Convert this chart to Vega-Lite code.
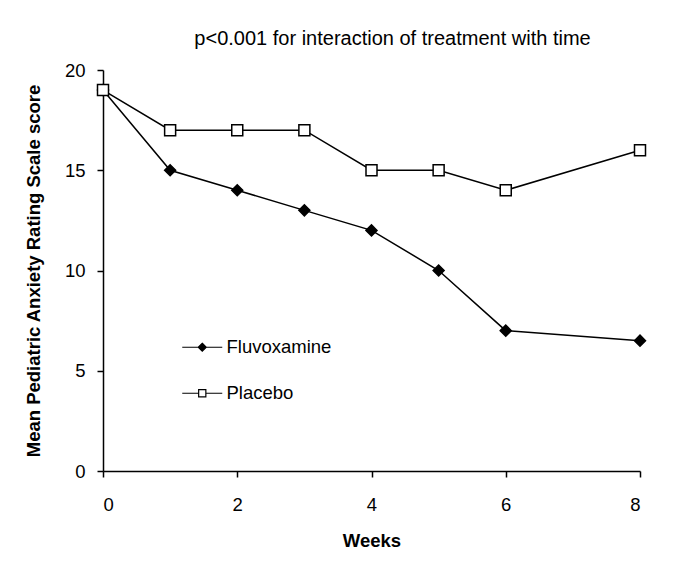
{
  "$schema": "https://vega.github.io/schema/vega-lite/v6.json",
  "autosize": {"type": "none"},
  "width": 537,
  "height": 401,
  "padding": {"left": 103, "top": 70, "right": 38, "bottom": 92},
  "background": "white",
  "config": {
    "view": {"stroke": null},
    "font": "Liberation Sans",
    "axis": {"grid": false, "domainColor": "black", "tickColor": "black", "labelColor": "black", "titleColor": "black", "domainWidth": 1.5, "tickWidth": 1.5, "labelFont": "Liberation Sans", "titleFont": "Liberation Sans", "labelFontSize": 18.5, "titleFontSize": 18.5, "titleFontWeight": "bold"}
  },
  "title": {"text": "p<0.001 for interaction of treatment with time", "fontSize": 20, "fontWeight": "normal", "font": "Liberation Sans", "color": "black", "dx": 21, "offset": 12, "anchor": "middle"},
  "data": {"values": [
    {"week": 0, "score": 19, "series": "Fluvoxamine"},
    {"week": 1, "score": 15, "series": "Fluvoxamine"},
    {"week": 2, "score": 14, "series": "Fluvoxamine"},
    {"week": 3, "score": 13, "series": "Fluvoxamine"},
    {"week": 4, "score": 12, "series": "Fluvoxamine"},
    {"week": 5, "score": 10, "series": "Fluvoxamine"},
    {"week": 6, "score": 7, "series": "Fluvoxamine"},
    {"week": 8, "score": 6.5, "series": "Fluvoxamine"},
    {"week": 0, "score": 19, "series": "Placebo"},
    {"week": 1, "score": 17, "series": "Placebo"},
    {"week": 2, "score": 17, "series": "Placebo"},
    {"week": 3, "score": 17, "series": "Placebo"},
    {"week": 4, "score": 15, "series": "Placebo"},
    {"week": 5, "score": 15, "series": "Placebo"},
    {"week": 6, "score": 14, "series": "Placebo"},
    {"week": 8, "score": 16, "series": "Placebo"}
  ]},
  "encoding": {
    "x": {"field": "week", "type": "quantitative", "scale": {"domain": [0, 8], "nice": false}, "axis": {"title": "Weeks", "values": [0, 2, 4, 6, 8], "labelPadding": 18, "titlePadding": 18, "tickSize": 6}},
    "y": {"field": "score", "type": "quantitative", "scale": {"domain": [0, 20], "nice": false}, "axis": {"title": "Mean Pediatric Anxiety Rating Scale score", "values": [0, 5, 10, 15, 20], "labelPadding": 12, "titlePadding": 21, "tickSize": 6}}
  },
  "layer": [
    {"mark": {"type": "line", "color": "black", "strokeWidth": 1.5}, "encoding": {"detail": {"field": "series"}}},
    {"mark": {"type": "point", "filled": false, "stroke": "black", "strokeWidth": 1.5, "size": 121, "opacity": 1},
     "encoding": {
       "shape": {"field": "series", "type": "nominal", "scale": {"domain": ["Fluvoxamine", "Placebo"], "range": ["diamond", "square"]}, "legend": null},
       "fill": {"field": "series", "type": "nominal", "scale": {"domain": ["Fluvoxamine", "Placebo"], "range": ["black", "white"]}, "legend": null}
     }},
    {"mark": {"type": "point", "filled": false, "strokeWidth": 1.2, "size": 64, "opacity": 0},
     "encoding": {
       "shape": {"field": "series", "type": "nominal", "scale": {"domain": ["Fluvoxamine", "Placebo"], "range": ["M-5,0H5M0,-1L1,0L0,1L-1,0Z", "M-5,0H-0.9M0.9,0H5M-0.9,-0.9H0.9V0.9H-0.9Z"]},
         "legend": {"title": null, "orient": "none", "legendX": 90, "legendY": 268, "padding": 0, "labelOffset": 15, "labelFontSize": 18.5, "labelFont": "Liberation Sans", "labelColor": "black", "rowPadding": 27, "symbolOpacity": 1, "symbolStrokeWidth": 1.2, "symbolSize": 64}},
       "fill": {"field": "series", "type": "nominal", "scale": {"domain": ["Fluvoxamine", "Placebo"], "range": ["black", "white"]}},
       "stroke": {"field": "series", "type": "nominal", "scale": {"domain": ["Fluvoxamine", "Placebo"], "range": ["black", "black"]}}
     }}
  ],
  "resolve": {"scale": {"shape": "independent", "fill": "independent", "stroke": "independent"}}
}
